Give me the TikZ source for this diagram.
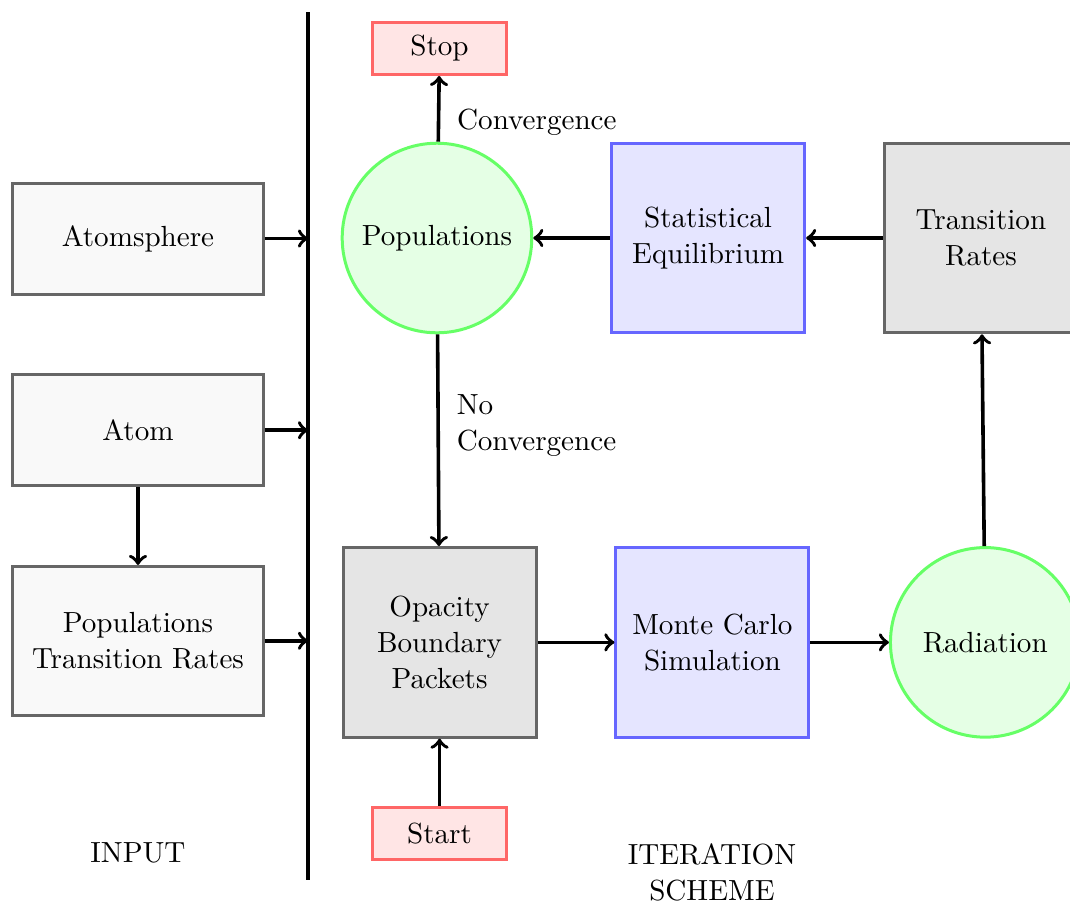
\documentclass[tikz,border=0pt]{standalone}
\usetikzlibrary{positioning,calc}
\begin{document}
\begin{tikzpicture}[
  font=\fontsize{9.7pt}{12pt}\selectfont,
  every node/.style={align=center},
  box/.style={rectangle,draw=black!60,line width=1pt,minimum width=2.26cm,minimum height=2.22cm},
  inbox/.style={box,fill=gray!5,minimum width=2.93cm,minimum height=1.3cm},
  calcbox/.style={box,fill=gray!20},
  solve/.style={box,draw=blue!60,fill=blue!10},
  quant/.style={circle,draw=green!60,fill=green!10,line width=1pt,minimum size=2.22cm,inner sep=1pt},
  term/.style={rectangle,draw=red!60,fill=red!10,line width=1pt,minimum width=1.58cm,minimum height=0.61cm},
  arr/.style={->,very thick}
]
\useasboundingbox (0,0) rectangle (12.53,-10.585);
% input side
\node[inbox] (atmos) at (1.616,-2.793) {Atomsphere};
\node[inbox,below=0.91cm of atmos] (atom) {Atom};
\node[inbox,below=0.91cm of atom,minimum height=1.74cm] (ptr) {Populations\\Transition Rates};
\coordinate (bartop) at (3.607,-0.141);
\coordinate (barbot) at (3.607,-10.304);
\draw[line width=1.4pt] (bartop) -- (barbot);
\node (input) at (1.616,-9.988) {INPUT};
% iteration scheme
\node[quant] (pops) at (5.117,-2.787) {Populations};
\node[solve,right=0.9cm of pops] (stateq) {Statistical\\Equilibrium};
\node[calcbox,right=0.9cm of stateq] (rates) {Transition\\Rates};
\node[term,above=0.77cm of pops,xshift=0.3mm] (stop) {Stop};
\node[calcbox,below=2.48cm of pops,xshift=0.3mm] (opac) {Opacity\\Boundary\\Packets};
\node[solve,right=0.9cm of opac] (mc) {Monte Carlo\\Simulation};
\node[quant,right=0.92cm of mc] (rad) {Radiation};
\node[term,below=0.79cm of opac] (start) {Start};
\node (iter) at (8.337,-10.21) {ITERATION\\SCHEME};
% connectors
\draw[arr] (atmos.east) -- (atmos.east -| bartop);
\draw[arr] (atom.east) -- (atom.east -| bartop);
\draw[arr] (ptr.east) -- (ptr.east -| bartop);
\draw[arr] (atom) -- (ptr);
\draw[arr] (start) -- (opac);
\draw[arr] (opac) -- (mc);
\draw[arr] (mc) -- (rad);
\draw[arr] (rad) -- (rates);
\draw[arr] (rates) -- (stateq);
\draw[arr] (stateq) -- (pops);
\draw[arr] (pops) -- node[pos=0.3,right,xshift=0.8mm] {Convergence} (stop);
\draw[arr] (pops) -- node[pos=0.43,right,xshift=0.8mm,align=left] {No\\Convergence} (opac);
\end{tikzpicture}
\end{document}
